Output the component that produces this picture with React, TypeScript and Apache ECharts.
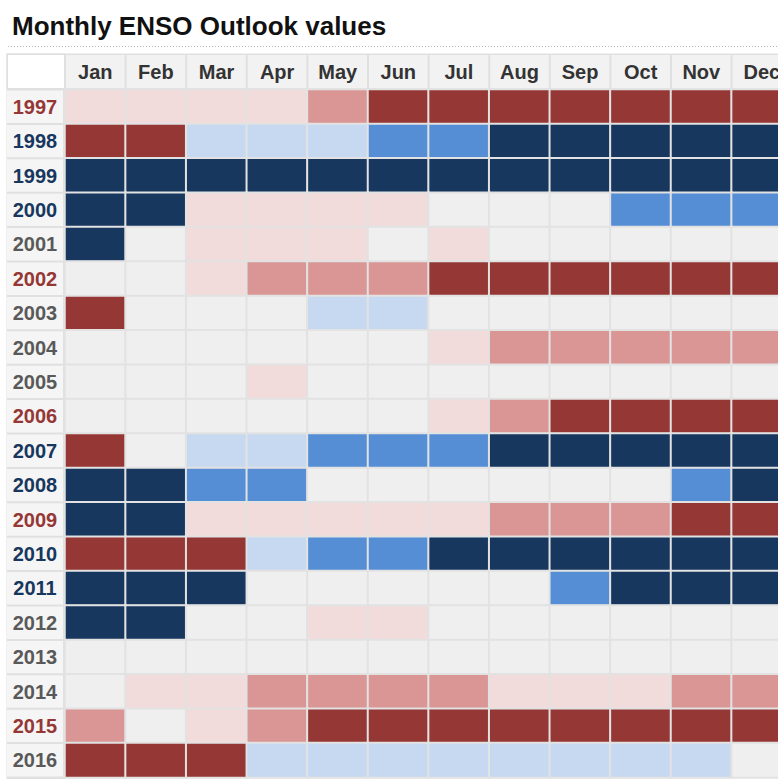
import React, { useEffect, useRef } from "react";
import * as echarts from "echarts";

const months = ["Jan", "Feb", "Mar", "Apr", "May", "Jun", "Jul", "Aug", "Sep", "Oct", "Nov", "Dec"];
const years = ["1997", "1998", "1999", "2000", "2001", "2002", "2003", "2004", "2005", "2006", "2007", "2008", "2009", "2010", "2011", "2012", "2013", "2014", "2015", "2016"];
// phase of each year's label: 1 El Niño (red), -1 La Niña (navy), 0 neutral (gray)
const yearPhase = [1, -1, -1, -1, 0, 1, 0, 0, 0, 1, -1, -1, 1, -1, -1, 0, 0, 0, 1, 0];

// outlook level per month: -3 strong La Niña ... 0 neutral ... 3 strong El Niño
const v1997 = [1, 1, 1, 1, 2, 3, 3, 3, 3, 3, 3, 3];
const v1998 = [3, 3, -1, -1, -1, -2, -2, -3, -3, -3, -3, -3];
const v1999 = [-3, -3, -3, -3, -3, -3, -3, -3, -3, -3, -3, -3];
const v2000 = [-3, -3, 1, 1, 1, 1, 0, 0, 0, -2, -2, -2];
const v2001 = [-3, 0, 1, 1, 1, 0, 1, 0, 0, 0, 0, 0];
const v2002 = [0, 0, 1, 2, 2, 2, 3, 3, 3, 3, 3, 3];
const v2003 = [3, 0, 0, 0, -1, -1, 0, 0, 0, 0, 0, 0];
const v2004 = [0, 0, 0, 0, 0, 0, 1, 2, 2, 2, 2, 2];
const v2005 = [0, 0, 0, 1, 0, 0, 0, 0, 0, 0, 0, 0];
const v2006 = [0, 0, 0, 0, 0, 0, 1, 2, 3, 3, 3, 3];
const v2007 = [3, 0, -1, -1, -2, -2, -2, -3, -3, -3, -3, -3];
const v2008 = [-3, -3, -2, -2, 0, 0, 0, 0, 0, 0, -2, -3];
const v2009 = [-3, -3, 1, 1, 1, 1, 1, 2, 2, 2, 3, 3];
const v2010 = [3, 3, 3, -1, -2, -2, -3, -3, -3, -3, -3, -3];
const v2011 = [-3, -3, -3, 0, 0, 0, 0, 0, -2, -3, -3, -3];
const v2012 = [-3, -3, 0, 0, 1, 1, 0, 0, 0, 0, 0, 0];
const v2013 = [0, 0, 0, 0, 0, 0, 0, 0, 0, 0, 0, 0];
const v2014 = [0, 1, 1, 2, 2, 2, 2, 1, 1, 1, 2, 2];
const v2015 = [2, 0, 1, 2, 3, 3, 3, 3, 3, 3, 3, 3];
const v2016 = [3, 3, 3, -1, -1, -1, -1, -1, -1, -1, -1, 0];

const rows = [v1997, v1998, v1999, v2000, v2001, v2002, v2003, v2004, v2005, v2006, v2007, v2008, v2009, v2010, v2011, v2012, v2013, v2014, v2015, v2016];

const levels = [-3, -2, -1, 0, 1, 2, 3];
const levelColors = ["#17375e", "#558ed5", "#c6d9f0", "#efefef", "#f2dcdb", "#d99694", "#953735"];

export default function App() {
  const ref = useRef<HTMLDivElement>(null);
  useEffect(() => {
    if (!ref.current) return;
    const chart = echarts.init(ref.current, null, { renderer: "svg" });
    const data: number[][] = [];
    rows.forEach((row, yi) => row.forEach((v, mi) => data.push([mi, yi, v])));
    const font = "'Liberation Sans', Arial, Helvetica, sans-serif";
    const colW = 60.6;
    const rowH = 34.4;
    const gridLeft = 65;
    const gridTop = 89.5;
    chart.setOption({
      animation: false,
      backgroundColor: "#ffffff",
      title: {
        text: "Monthly ENSO Outlook values",
        left: 7,
        top: 8,
        textStyle: { fontSize: 26, fontWeight: "bold", color: "#111111", fontFamily: font },
      },
      graphic: [
        {
          type: "line",
          z: -1,
          shape: { x1: 8, y1: 46.5, x2: 800, y2: 46.5 },
          style: { stroke: "#b5b5b5", lineWidth: 1, lineDash: [1, 2] },
        },
        {
          type: "rect",
          z: -1,
          shape: { x: 6.5, y: 53.5, width: 800, height: 36 },
          style: { fill: "#e0e0e0" },
        },
        {
          type: "rect",
          z: -1,
          shape: { x: 6.5, y: 53.5, width: 59, height: 730 },
          style: { fill: "#e0e0e0" },
        },
        {
          type: "rect",
          z: -1,
          shape: { x: 8, y: 55, width: 56, height: 33 },
          style: { fill: "#ffffff" },
        },
      ],
      grid: { left: gridLeft, top: gridTop, width: colW * 12, height: rowH * 20 },
      xAxis: {
        type: "category",
        position: "top",
        data: months,
        axisLine: { show: false },
        axisTick: { show: false },
        splitLine: { show: false },
        axisLabel: {
          interval: 0,
          margin: 1.5,
          fontSize: 20,
          fontWeight: "bold",
          fontFamily: font,
          color: "#333333",
          backgroundColor: "#f2f2f2",
          width: colW - 2,
          height: 33,
          lineHeight: 33,
          align: "center",
          verticalAlign: "bottom",
        },
      },
      yAxis: {
        type: "category",
        data: years,
        inverse: true,
        axisLine: { show: false },
        axisTick: { show: false },
        splitLine: { show: false },
        axisLabel: {
          interval: 0,
          margin: 30,
          fontSize: 20,
          fontWeight: "bold",
          fontFamily: font,
          color: (_v: string, i: number) =>
            yearPhase[i] > 0 ? "#953735" : yearPhase[i] < 0 ? "#17375e" : "#595959",
          backgroundColor: "#f5f5f5",
          width: 56,
          height: rowH - 2,
          lineHeight: rowH + 2,
          align: "center",
          verticalAlign: "middle",
        },
      },
      visualMap: {
        type: "piecewise",
        show: false,
        dimension: 2,
        pieces: levels.map((l, i) => ({ value: l, color: levelColors[i] })),
      },
      series: [
        {
          type: "heatmap",
          data,
          itemStyle: { borderColor: "#e2e2e2", borderWidth: 2 },
          emphasis: { disabled: true },
        },
      ],
    });
    return () => chart.dispose();
  }, []);
  return (
    <div style={{ position: "fixed", left: 0, top: 0, width: 778, height: 779, overflow: "hidden", background: "#fff" }}>
      <div ref={ref} style={{ width: 810, height: 779 }} />
    </div>
  );
}
